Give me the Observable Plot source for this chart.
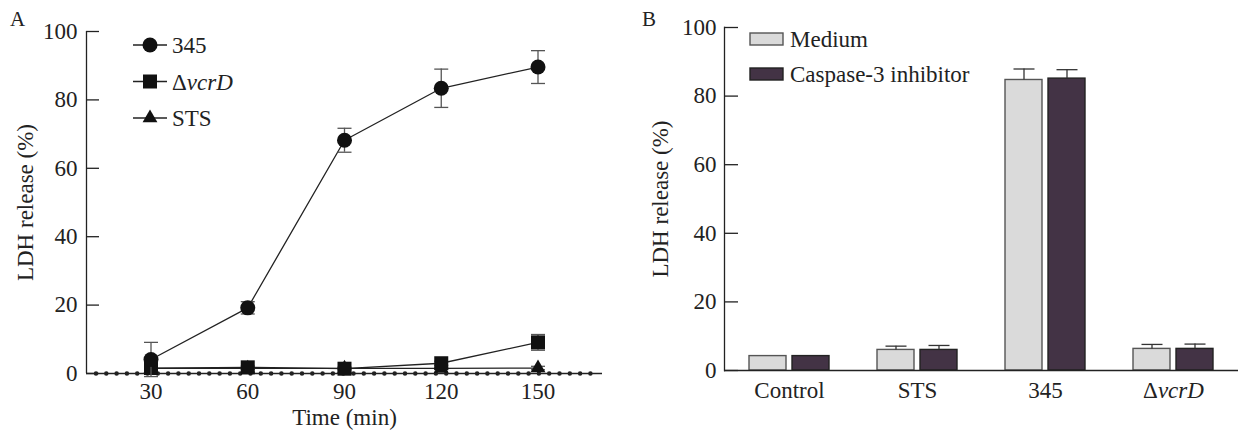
<!DOCTYPE html>
<html><head><meta charset="utf-8">
<script src="https://cdn.jsdelivr.net/npm/d3@7"></script>
<script src="https://cdn.jsdelivr.net/npm/@observablehq/plot@0.6"></script>
<style>
body{margin:0;background:#fff;}
#wrap{position:relative;width:1238px;height:432px;overflow:hidden;font-family:"Liberation Serif","Times New Roman","DejaVu Serif",serif;color:#222;}
#wrap svg, #wrap svg text{font-family:"Liberation Serif","Times New Roman","DejaVu Serif",serif !important;}
.panel{position:absolute;top:0;}
#legend{position:absolute;left:0;top:0;}
</style></head>
<body>
<div id="wrap">
  <div class="panel" id="pa" style="left:0"></div>
  <div class="panel" id="pb" style="left:620px"></div>
  <svg id="legend" width="1238" height="432"></svg>
</div>
<script>
// ---- Panel A data ----
const times = [30, 60, 90, 120, 150];
const timeTicks = [30, 60, 90, 120, 150];
const s345 = [4.1, 19.2, 68.2, 83.4, 89.6];
const s345Err = [5.0, 1.8, 3.5, 5.6, 4.8];
const vcrD = [1.6, 1.8, 1.4, 3.0, 9.1];
const vcrDErr = [0.4, 0.4, 0.4, 0.6, 2.3];
const sts = [1.5, 1.5, 1.5, 1.5, 1.6];
const stsErr = [0.3, 0.3, 0.3, 0.3, 0.5];
const yTicks = [0, 20, 40, 60, 80, 100];
const seriesNames = ["345", "ΔvcrD", "STS"];

// ---- Panel B data ----
const categories = ["Control", "STS", "345", "ΔvcrD"];
const groupNames = ["Medium", "Caspase-3 inhibitor"];
const medium = [4.2, 6.0, 84.7, 6.3];
const mediumErr = [0, 1.1, 3.2, 1.3];
const inhibitor = [4.2, 6.0, 85.1, 6.3];
const inhibitorErr = [0, 1.3, 2.6, 1.4];

const FONT = "Liberation Serif, Times New Roman, DejaVu Serif, serif";
const FS = 23;
const capSymbol = {draw(ctx, size) { const h = Math.sqrt(size / Math.PI); ctx.moveTo(-h, 0); ctx.lineTo(h, 0); }};

function rows(vals, errs) { return times.map((t, i) => ({t, v: vals[i], lo: vals[i] - errs[i], hi: vals[i] + errs[i]})); }
const dSts = rows(sts, stsErr), dVcrD = rows(vcrD, vcrDErr), d345 = rows(s345, s345Err);

const WA = 620, HA = 432, mlA = 86, mrA = 18, mtA = 31, mbA = 59;
const errMarks = (d) => [
  Plot.ruleX(d, {x: "t", y1: "lo", y2: "hi", stroke: "#555", strokeWidth: 1.3}),
  Plot.dot(d, {x: "t", y: "hi", symbol: capSymbol, r: 7, stroke: "#555", strokeWidth: 1.3, fill: "none"}),
  Plot.dot(d, {x: "t", y: "lo", symbol: capSymbol, r: 7, stroke: "#555", strokeWidth: 1.3, fill: "none"})
];
const plotA = Plot.plot({
  width: WA, height: HA, marginLeft: mlA, marginRight: mrA, marginTop: mtA, marginBottom: mbA,
  style: {fontFamily: FONT, fontSize: FS + "px", color: "#222", background: "transparent"},
  x: {domain: [10, 170], label: null},
  y: {domain: [0, 100], label: null},
  marks: [
    Plot.ruleX([10], {stroke: "#222", strokeWidth: 1.3}),
    Plot.tickY(yTicks, {y: d => d, stroke: "#222", strokeWidth: 1.3, insetRight: (WA - mlA - mrA) - 13}),
    Plot.axisY({ticks: yTicks, tickSize: 0, tickPadding: 9, label: null}),
    Plot.axisX({ticks: timeTicks, tickSize: 0, tickPadding: 9, label: null}),
    Plot.text(["LDH release (%)"], {frameAnchor: "left", rotate: -90, dx: -61, textAnchor: "middle", lineAnchor: "middle", fontSize: FS, fill: "#222"}),
    Plot.text(["Time (min)"], {frameAnchor: "bottom", dy: 44, textAnchor: "middle", lineAnchor: "middle", fontSize: FS, fill: "#222"}),
    Plot.ruleY([0], {stroke: "#222", strokeWidth: 1.3}),
    Plot.ruleY([0], {stroke: "#222", strokeWidth: 4.5, strokeLinecap: "round", strokeDasharray: "0 10.3", insetLeft: 10, insetRight: 10}),
    Plot.line(dSts, {x: "t", y: "v", stroke: "#222", strokeWidth: 1.3}),
    ...errMarks(dSts),
    Plot.dot(dSts, {x: "t", y: "v", symbol: "triangle", r: 5.5, fill: "#111"}),
    Plot.line(dVcrD, {x: "t", y: "v", stroke: "#222", strokeWidth: 1.3}),
    ...errMarks(dVcrD),
    Plot.dot(dVcrD, {x: "t", y: "v", symbol: "square", r: 7.9, fill: "#111"}),
    Plot.line(d345, {x: "t", y: "v", stroke: "#222", strokeWidth: 1.3}),
    ...errMarks(d345),
    Plot.dot(d345, {x: "t", y: "v", symbol: "circle", r: 7.5, fill: "#111"})
  ]
});
document.getElementById("pa").appendChild(plotA);

// ---- Panel B ----
const bMed = categories.map((c, i) => ({c, v: medium[i], hi: medium[i] + mediumErr[i], e: mediumErr[i]}));
const bInh = categories.map((c, i) => ({c, v: inhibitor[i], hi: inhibitor[i] + inhibitorErr[i], e: inhibitorErr[i]}));
const WB = 618, HB = 432, mlB = 104, mrB = 0, mtB = 27, mbB = 62;
const plotB = Plot.plot({
  width: WB, height: HB, marginLeft: mlB, marginRight: mrB, marginTop: mtB, marginBottom: mbB,
  style: {fontFamily: FONT, fontSize: FS + "px", color: "#222", background: "transparent"},
  x: {domain: categories, paddingInner: 0.372, paddingOuter: 0.186, label: null},
  y: {domain: [0, 100], label: null},
  marks: [
    Plot.barY(bMed, {x: "c", y: "v", fill: "#dadada", stroke: "#555", strokeWidth: 1.4, insetRight: 43}),
    Plot.barY(bInh, {x: "c", y: "v", fill: "#433345", stroke: "#222", strokeWidth: 1.4, insetLeft: 43}),
    Plot.ruleX(bMed.filter(d => d.e > 0), {x: "c", y1: "v", y2: "hi", dx: -21.5, stroke: "#333", strokeWidth: 1.3}),
    Plot.dot(bMed.filter(d => d.e > 0), {x: "c", y: "hi", dx: -21.5, symbol: capSymbol, r: 10.5, stroke: "#333", strokeWidth: 1.3, fill: "none"}),
    Plot.ruleX(bInh.filter(d => d.e > 0), {x: "c", y1: "v", y2: "hi", dx: 21.5, stroke: "#333", strokeWidth: 1.3}),
    Plot.dot(bInh.filter(d => d.e > 0), {x: "c", y: "hi", dx: 21.5, symbol: capSymbol, r: 10.5, stroke: "#333", strokeWidth: 1.3, fill: "none"}),
    Plot.frame({anchor: "left", stroke: "#222", strokeWidth: 1.3}),
    Plot.tickY(yTicks, {y: d => d, stroke: "#222", strokeWidth: 1.3, insetRight: (WB - mlB - mrB) - 14}),
    Plot.ruleY([0], {stroke: "#222", strokeWidth: 1.3}),
    Plot.axisY({ticks: yTicks, tickSize: 0, tickPadding: 8, label: null}),
    Plot.axisX({tickSize: 0, tickPadding: 11, label: null}),
    Plot.text(["LDH release (%)"], {frameAnchor: "left", rotate: -90, dx: -64, textAnchor: "middle", lineAnchor: "middle", fontSize: FS, fill: "#222"})
  ]
});
document.getElementById("pb").appendChild(plotB);

// italic vcrD in tick labels
function italicize(root) {
  d3.select(root).selectAll("text").each(function() {
    if (this.textContent === "ΔvcrD" && this.childElementCount === 0) {
      const t = d3.select(this); t.text("");
      t.append("tspan").text("Δ");
      t.append("tspan").attr("font-style", "italic").text("vcrD");
    }
  });
}
italicize(plotB);

// ---- Legends and panel letters ----
const L = d3.select("#legend").attr("font-family", FONT).attr("font-size", FS).attr("fill", "#222");
L.append("text").attr("x", 10).attr("y", 19).attr("font-size", 21).attr("dominant-baseline", "central").text("A");
L.append("text").attr("x", 642).attr("y", 19).attr("font-size", 21).attr("dominant-baseline", "central").text("B");
const symA = [d3.symbolCircle, d3.symbolSquare, d3.symbolTriangle];
const sizeA = [Math.PI * 7.5 * 7.5, Math.PI * 7.9 * 7.9, Math.PI * 5.5 * 5.5];
seriesNames.forEach((name, i) => {
  const y = 45 + i * 36.5;
  L.append("line").attr("x1", 133).attr("x2", 167).attr("y1", y).attr("y2", y).attr("stroke", "#222").attr("stroke-width", 1.3);
  L.append("path").attr("d", d3.symbol(symA[i], sizeA[i])()).attr("transform", `translate(150,${y})`).attr("fill", "#111");
  const t = L.append("text").attr("x", 172).attr("y", y).attr("dominant-baseline", "central");
  if (name === "ΔvcrD") { t.append("tspan").text("Δ"); t.append("tspan").attr("font-style", "italic").text("vcrD"); }
  else t.text(name);
});
const fills = ["#dadada", "#433345"], strokes = ["#555", "#222"];
groupNames.forEach((name, i) => {
  const y = 33 + i * 35;
  L.append("rect").attr("x", 750).attr("y", y).attr("width", 33).attr("height", 12).attr("fill", fills[i]).attr("stroke", strokes[i]).attr("stroke-width", 1.4);
  L.append("text").attr("x", 790).attr("y", y + 6).attr("dominant-baseline", "central").text(name);
});
</script>
</body></html>
